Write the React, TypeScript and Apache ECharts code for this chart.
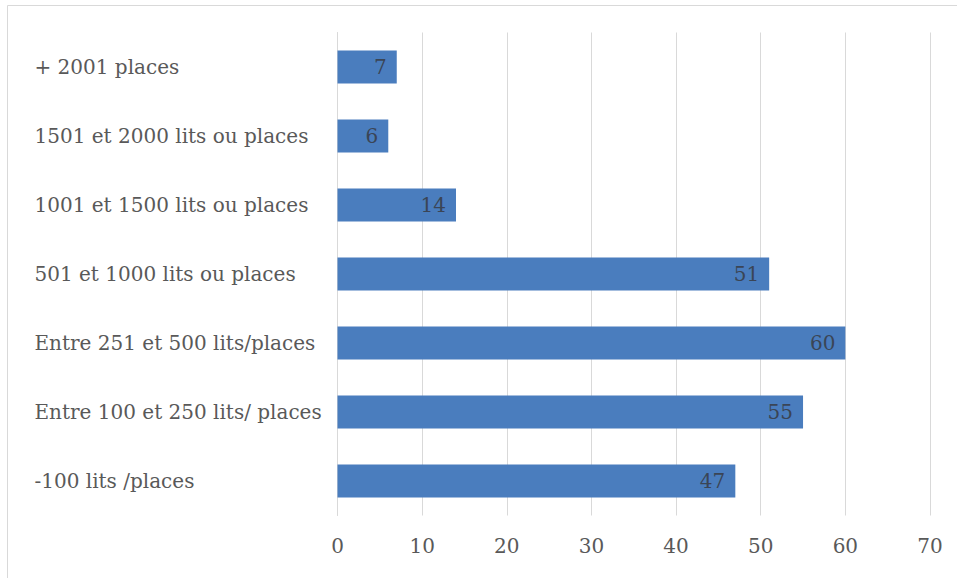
import React, { useEffect, useRef } from "react";
import * as echarts from "echarts";

const categories = [
  "-100 lits /places",
  "Entre 100 et 250 lits/ places",
  "Entre 251 et 500 lits/places",
  "501 et 1000 lits ou places",
  "1001 et 1500 lits ou places",
  "1501 et 2000 lits ou places",
  "+ 2001 places",
];
const values = [47, 55, 60, 51, 14, 6, 7];
const xMin = 0;
const xMax = 70;
const xInterval = 10;

const FONT = "DejaVu Serif";

export default function App() {
  const ref = useRef<HTMLDivElement>(null);
  useEffect(() => {
    if (!ref.current) return;
    const chart = echarts.init(ref.current, undefined, { renderer: "svg" });
    chart.setOption({
      animation: false,
      backgroundColor: "#ffffff",
      graphic: [
        {
          type: "rect",
          shape: { x: 7.5, y: 5.5, width: 1200, height: 1200 },
          style: { fill: "none", stroke: "#d9d9d9", lineWidth: 1 },
          silent: true,
        },
      ],
      grid: { left: 337.5, right: 27, top: 32.5, bottom: 62.5, containLabel: false },
      xAxis: {
        type: "value",
        min: xMin,
        max: xMax,
        interval: xInterval,
        axisLine: { show: false },
        axisTick: { show: false },
        splitLine: { show: true, lineStyle: { color: "#d9d9d9", width: 1 } },
        axisLabel: {
          color: "#595959",
          fontFamily: FONT,
          fontSize: 20,
          margin: 20,
        },
      },
      yAxis: {
        type: "category",
        data: categories,
        axisLine: { show: true, lineStyle: { color: "#d9d9d9", width: 1 } },
        axisTick: { show: false },
        splitLine: { show: false },
        axisLabel: {
          align: "left",
          margin: 303,
          color: "#595959",
          fontFamily: FONT,
          fontSize: 20,
          padding: [3, 0, 0, 0],
        },
      },
      series: [
        {
          type: "bar",
          data: values,
          barWidth: "48%",
          itemStyle: { color: "#4A7DBE" },
          label: {
            show: true,
            position: "insideRight",
            distance: 10,
            color: "#3a4556",
            fontFamily: FONT,
            fontSize: 20,
          },
        },
      ],
    });
    return () => chart.dispose();
  }, []);
  return (
    <div
      ref={ref}
      style={{ position: "fixed", left: 0, top: 0, width: 957, height: 578 }}
    />
  );
}
